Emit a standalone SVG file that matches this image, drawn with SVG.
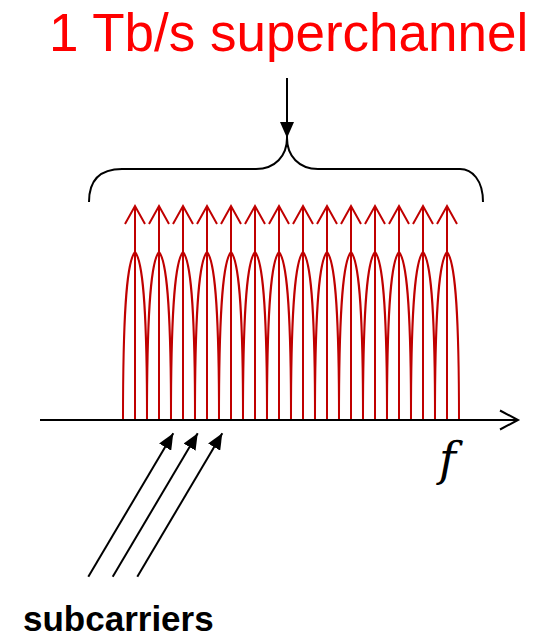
<svg xmlns="http://www.w3.org/2000/svg" xmlns:xlink="http://www.w3.org/1999/xlink" width="543" height="637" viewBox="0 0 543 637">
<style>
.red{fill:none;stroke:#c00000;stroke-width:2}
.blk{fill:none;stroke:#000;stroke-width:2}
.title{font-family:"Liberation Sans",Arial,sans-serif;font-size:53px;fill:#ff0000}
.lbl{font-family:"Liberation Sans",Arial,sans-serif;font-size:35px;font-weight:bold;fill:#000}
.fv{font-family:"DejaVu Serif",serif;font-size:46px;font-style:italic;fill:#000}
</style>
<defs>
<marker id="ah" markerUnits="userSpaceOnUse" markerWidth="16" markerHeight="14" refX="16" refY="7" orient="auto" viewBox="0 0 16 14">
<path d="M0,0 L16,7 L0,14 z" fill="#000"/>
</marker>
<g id="carrier" class="red">
<path d="M0 420 V206 M-10 224 L0 206 L10 224"/>
<path d="M-12 420 C-12 320 -9 262 0 252 C9 262 12 320 12 420"/>
</g>
</defs>
<g id="title"><text class="title" x="49" y="51">1 Tb/s superchannel</text></g>
<g id="superchannel">
<use xlink:href="#carrier" x="135"/>
<use xlink:href="#carrier" x="159"/>
<use xlink:href="#carrier" x="183"/>
<use xlink:href="#carrier" x="207"/>
<use xlink:href="#carrier" x="231"/>
<use xlink:href="#carrier" x="255"/>
<use xlink:href="#carrier" x="279"/>
<use xlink:href="#carrier" x="303"/>
<use xlink:href="#carrier" x="327"/>
<use xlink:href="#carrier" x="351"/>
<use xlink:href="#carrier" x="375"/>
<use xlink:href="#carrier" x="399"/>
<use xlink:href="#carrier" x="423"/>
<use xlink:href="#carrier" x="447"/>
</g>
<g id="brace"><path class="blk" d="M89 202 C89 180 100 169 122 169 L256 169 C275 169 287 156 287 138 C287 156 299 169 318 169 L460 169 C472 169 483 180 483 202"/></g>
<g id="axis">
<path class="blk" d="M40 420 H517 M500 410.5 L518 420 L500 429.5"/>
<text class="fv" x="439" y="475">f</text>
</g>
<g id="connectors" class="blk">
<path d="M287 78 V138" marker-end="url(#ah)"/>
<path d="M88.3 576.7 L173.3 433.3" marker-end="url(#ah)"/>
<path d="M112.7 576.7 L197.7 433.3" marker-end="url(#ah)"/>
<path d="M137.3 576.7 L222.3 433.3" marker-end="url(#ah)"/>
</g>
<g id="subcarriers"><text class="lbl" x="23" y="631">subcarriers</text></g>
</svg>
